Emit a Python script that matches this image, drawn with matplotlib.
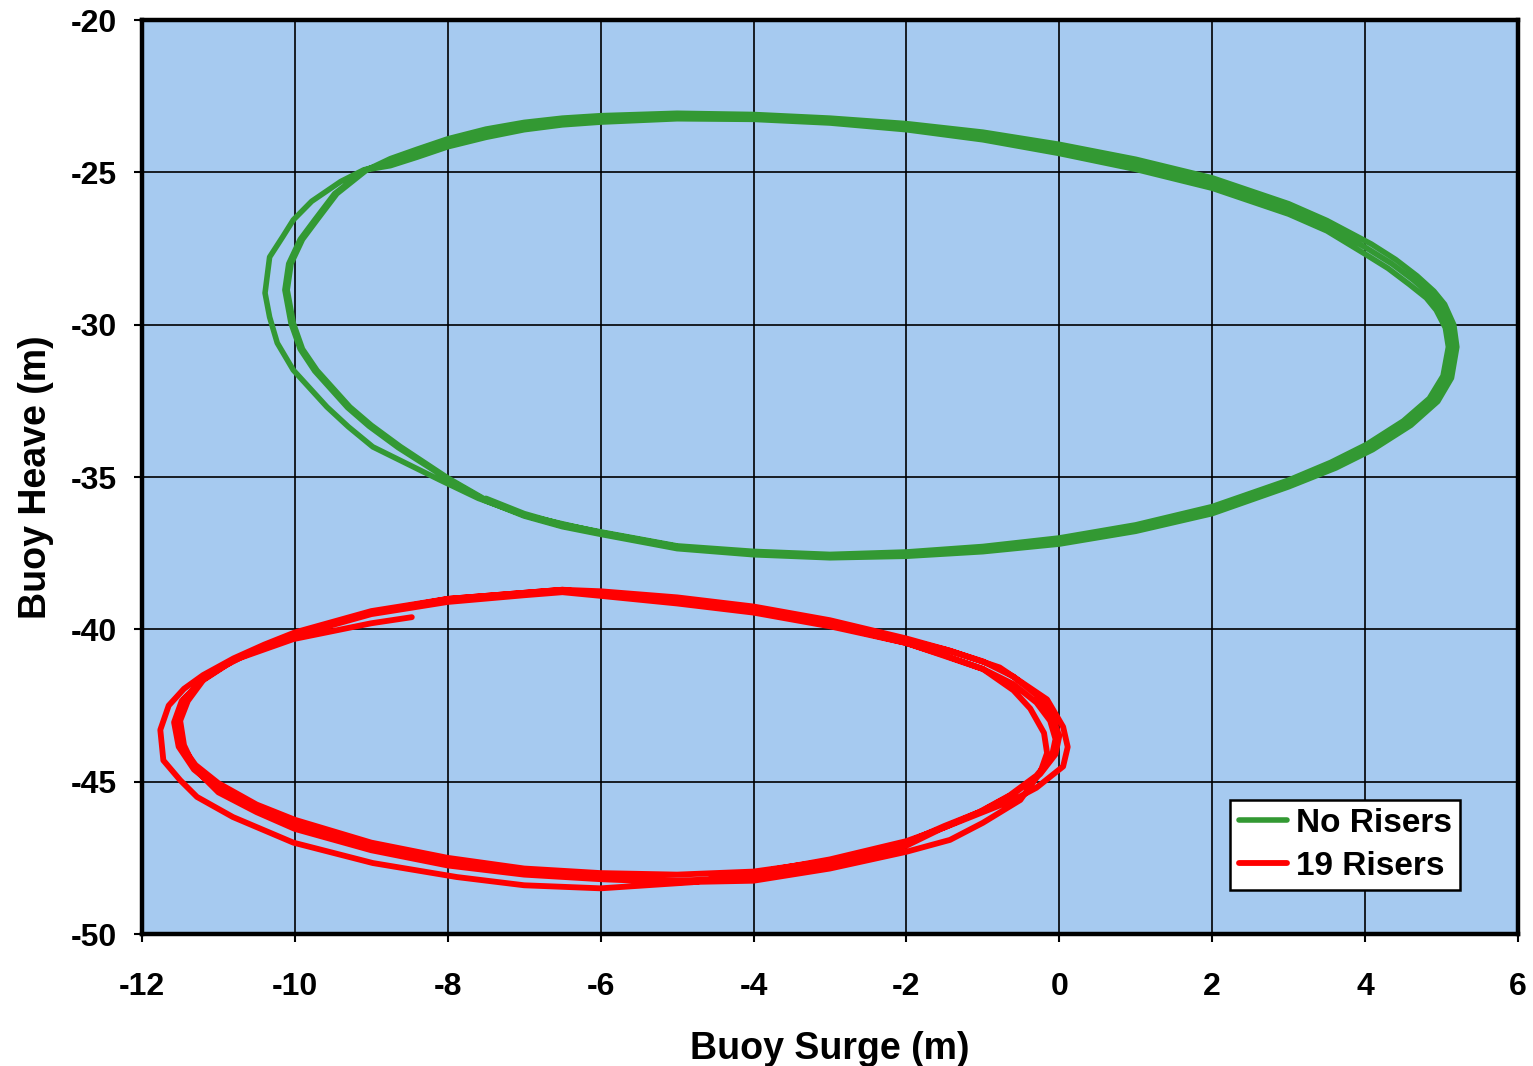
import numpy as np
import matplotlib
matplotlib.use("Agg")
import matplotlib.pyplot as plt

plt.rcParams["font.family"] = ["Liberation Sans", "DejaVu Sans"]
plt.rcParams["font.weight"] = "bold"
plt.rcParams["axes.unicode_minus"] = False

# ---- No Risers (green): transient start + three orbits ----
g_start_x = [-5.0, -6.0, -7.0, -7.6, -8.1, -8.98, -9.3, -9.58, -10.02, -10.23, -10.33, -10.39, -10.33, -10.16, -10.02, -9.78, -9.4, -9.1]
g_start_y = [-37.28, -36.82, -36.25, -35.7, -35.1, -34.01, -33.35, -32.7, -31.49, -30.6, -29.75, -28.96, -27.78, -27.12, -26.56, -25.95, -25.3, -24.92]

g_cyc1_x = [-8.75, -8.4, -8.0, -7.5, -7.0, -6.5, -6.0, -5.0, -4.0, -3.0, -2.0, -1.0, 0.0, 1.0, 2.0, 3.0, 3.5, 4.03, 4.35, 4.63, 4.85, 4.98, 5.1, 5.14, 5.07, 4.89, 4.55, 4.07, 3.6, 3.0, 2.0, 1.0, 0.0, -1.0, -2.0, -3.0, -4.0, -5.0, -6.0, -6.5, -7.0, -7.5, -8.0, -8.62, -9.0, -9.28, -9.71, -9.9, -10.02, -10.1, -10.05, -9.9, -9.71, -9.45, -9.06]
g_cyc1_y = [-24.68, -24.38, -24.04, -23.72, -23.48, -23.33, -23.25, -23.15, -23.18, -23.31, -23.5, -23.8, -24.23, -24.73, -25.35, -26.2, -26.75, -27.5, -28.0, -28.53, -29.0, -29.42, -30.05, -30.73, -31.72, -32.47, -33.23, -34.01, -34.6, -35.2, -36.08, -36.67, -37.1, -37.36, -37.53, -37.59, -37.49, -37.3, -36.84, -36.6, -36.25, -35.75, -35.03, -34.0, -33.3, -32.7, -31.5, -30.8, -29.95, -28.86, -28.0, -27.2, -26.56, -25.7, -24.92]

g_cyc2_x = [-8.75, -8.4, -8.0, -7.5, -7.0, -6.5, -6.0, -5.0, -4.0, -3.0, -2.0, -1.0, 0.0, 1.0, 2.0, 3.0, 3.5, 4.08, 4.4, 4.68, 4.9, 5.04, 5.16, 5.2, 5.13, 4.95, 4.6, 4.1, 3.62, 3.0, 2.0, 1.0, 0.0, -1.0, -2.0, -3.0, -4.0, -5.0, -6.0, -6.5, -7.0, -7.5, -8.0, -8.65, -9.03, -9.31, -9.74, -9.93, -10.05, -10.13, -10.08, -9.93, -9.74, -9.48, -9.08]
g_cyc2_y = [-24.55, -24.24, -23.9, -23.58, -23.36, -23.22, -23.14, -23.06, -23.1, -23.22, -23.4, -23.68, -24.08, -24.57, -25.18, -26.03, -26.58, -27.35, -27.86, -28.4, -28.9, -29.33, -30.0, -30.73, -31.75, -32.52, -33.3, -34.1, -34.7, -35.32, -36.2, -36.78, -37.2, -37.45, -37.6, -37.65, -37.55, -37.35, -36.88, -36.63, -36.28, -35.78, -35.07, -34.03, -33.33, -32.72, -31.52, -30.8, -29.95, -28.86, -28.0, -27.2, -26.56, -25.7, -24.92]

g_cyc3_x = [-8.75, -8.4, -8.0, -7.5, -7.0, -6.5, -6.0, -5.0, -4.0, -3.0, -2.0, -1.0, 0.0, 1.0, 2.0, 3.0, 3.5, 3.98, 4.3, 4.58, 4.8, 4.93, 5.05, 5.09, 5.02, 4.84, 4.5, 4.02, 3.55, 3.0, 2.0, 1.0, 0.0, -1.0, -2.0, -3.0, -4.0, -5.0, -6.0, -6.5, -7.0, -7.5]
g_cyc3_y = [-24.78, -24.5, -24.16, -23.85, -23.6, -23.44, -23.35, -23.24, -23.26, -23.38, -23.6, -23.93, -24.38, -24.9, -25.52, -26.37, -26.92, -27.65, -28.15, -28.68, -29.12, -29.52, -30.1, -30.73, -31.68, -32.42, -33.16, -33.93, -34.52, -35.1, -35.97, -36.57, -37.0, -37.28, -37.46, -37.54, -37.44, -37.26, -36.8, -36.56, -36.2, -35.7]

# ---- 19 Risers (red): transient orbit + main orbits + end ----
r_cyc1_x = [-5.0, -4.0, -3.0, -2.0, -1.43, -0.78, -0.16, 0.05, 0.11, 0.05, -0.3, -0.6, -1.0, -1.5, -2.0, -3.0, -4.0, -4.8, -6.0, -7.0, -7.88, -8.98, -10.02, -10.81, -11.28, -11.5, -11.72, -11.76, -11.65, -11.45, -11.2, -10.8, -10.4, -10.0, -9.0, -8.0, -7.0, -6.5]
r_cyc1_y = [-39.0, -39.3, -39.75, -40.35, -40.7, -41.25, -42.3, -43.2, -43.86, -44.5, -45.2, -45.6, -46.0, -46.5, -46.95, -47.55, -48.0, -48.3, -48.5, -48.4, -48.13, -47.67, -47.0, -46.16, -45.5, -44.95, -44.3, -43.3, -42.5, -41.95, -41.5, -40.95, -40.5, -40.1, -39.4, -39.0, -38.8, -38.7]

r_cyc2_x = [-6.0, -5.0, -4.0, -3.0, -2.0, -1.5, -1.0, -0.6, -0.3, -0.1, 0.0, -0.05, -0.25, -0.6, -1.0, -1.5, -2.0, -3.0, -4.0, -5.0, -6.0, -7.0, -8.0, -9.0, -10.0, -10.5, -11.0, -11.3, -11.5, -11.55, -11.45, -11.2, -10.8, -10.4, -10.0, -9.0, -8.0, -7.0, -6.5]
r_cyc2_y = [-38.75, -38.95, -39.25, -39.7, -40.3, -40.65, -41.05, -41.55, -42.15, -42.8, -43.5, -44.1, -44.75, -45.4, -45.95, -46.45, -47.0, -47.6, -47.95, -48.05, -48.0, -47.85, -47.5, -47.0, -46.25, -45.75, -45.05, -44.45, -43.75, -43.0, -42.3, -41.65, -41.0, -40.55, -40.15, -39.45, -39.0, -38.8, -38.7]

r_cyc3_x = [-6.0, -5.0, -4.0, -3.0, -2.0, -1.5, -1.0, -0.6, -0.3, -0.12, -0.05, -0.1, -0.3, -0.65, -1.05, -1.55, -2.0, -3.0, -4.0, -5.0, -6.0, -7.0, -8.0, -9.0, -10.0, -10.5, -11.0, -11.32, -11.52, -11.58, -11.48, -11.22, -10.82, -10.42, -10.0, -9.0, -8.0, -7.0, -6.5]
r_cyc3_y = [-38.85, -39.05, -39.4, -39.85, -40.45, -40.85, -41.3, -41.8, -42.4, -43.0, -43.6, -44.2, -44.8, -45.45, -46.0, -46.55, -47.1, -47.75, -48.15, -48.25, -48.15, -48.0, -47.65, -47.15, -46.45, -45.95, -45.25, -44.6, -43.85, -43.05, -42.35, -41.7, -41.05, -40.6, -40.2, -39.5, -39.1, -38.88, -38.78]

r_end_x = [-6.0, -5.0, -4.0, -3.0, -2.0, -1.0, -0.6, -0.38, -0.2, -0.16, -0.25, -0.51, -1.0, -1.43, -2.0, -3.0, -4.0, -5.0, -6.0, -7.0, -8.0, -9.0, -10.0, -10.5, -11.0, -11.3, -11.45, -11.5, -11.4, -11.15, -10.72, -10.02, -9.0, -8.47]
r_end_y = [-38.9, -39.15, -39.45, -39.9, -40.45, -41.3, -42.0, -42.6, -43.4, -44.06, -44.7, -45.6, -46.35, -46.91, -47.3, -47.85, -48.25, -48.3, -48.2, -48.05, -47.75, -47.25, -46.55, -46.0, -45.35, -44.6, -43.8, -43.0, -42.35, -41.5, -40.94, -40.32, -39.8, -39.6]

x_ticks = [-12, -10, -8, -6, -4, -2, 0, 2, 4, 6]
y_ticks = [-50, -45, -40, -35, -30, -25, -20]

green_x = np.concatenate([g_start_x, g_cyc1_x, g_cyc2_x, g_cyc3_x])
green_y = np.concatenate([g_start_y, g_cyc1_y, g_cyc2_y, g_cyc3_y])
red_x = np.concatenate([r_cyc1_x, r_cyc2_x, r_cyc3_x, r_end_x])
red_y = np.concatenate([r_cyc1_y, r_cyc2_y, r_cyc3_y, r_end_y])

fig = plt.figure(figsize=(15.33, 10.66), dpi=100)
ax = fig.add_axes([0.0926, 0.1238, 0.8976, 0.8574])
ax.set_facecolor("#A6CAF0")

ax.plot(green_x, green_y, color="#339933", lw=4.0, solid_capstyle="round",
        solid_joinstyle="round", label="No Risers")
ax.plot(red_x, red_y, color="#FF0000", lw=4.2, solid_capstyle="round",
        solid_joinstyle="round", label="19 Risers")

ax.set_xlim(-12, 6)
ax.set_ylim(-50, -20)
ax.set_xticks(x_ticks)
ax.set_yticks(y_ticks)
ax.grid(True, color="black", lw=1.2)
ax.set_axisbelow(True)
for s in ax.spines.values():
    s.set_linewidth(3.2)
ax.tick_params(direction="out", length=6, width=1.5, labelsize=23)
ax.tick_params(axis="x", pad=21)
ax.tick_params(axis="y", pad=12)

ax.set_xlabel("Buoy Surge (m)", fontsize=27, fontweight="bold", labelpad=21)
ax.set_ylabel("Buoy Heave (m)", fontsize=27, fontweight="bold", labelpad=12)

leg = ax.legend(loc="lower right", bbox_to_anchor=(0.958, 0.048), fontsize=24,
                frameon=True, fancybox=False, edgecolor="black", framealpha=1,
                handlelength=1.45, handletextpad=0.27, labelspacing=0.35,
                borderpad=0.25, borderaxespad=0)
leg.get_frame().set_linewidth(1.8)
for t in leg.get_texts():
    t.set_fontweight("bold")

fig.savefig("out.png", dpi=100)
